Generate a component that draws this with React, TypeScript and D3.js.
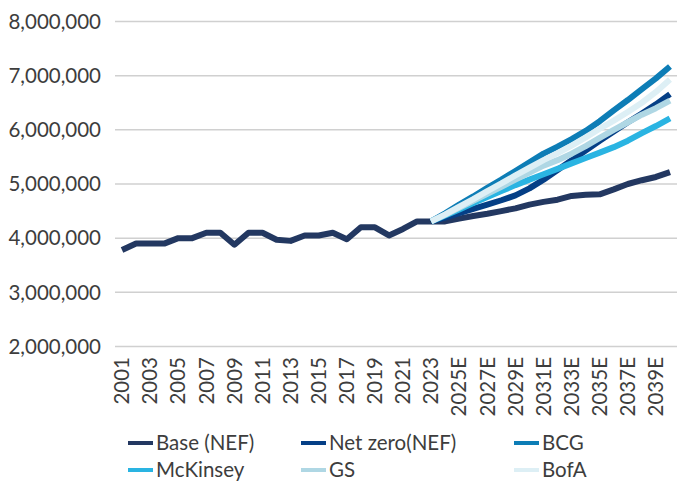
import React from "react";
import * as d3 from "d3";

const categories: string[] = [
  "2001","2002","2003","2004","2005","2006","2007","2008","2009","2010",
  "2011","2012","2013","2014","2015","2016","2017","2018","2019","2020",
  "2021","2022","2023","2024E","2025E","2026E","2027E","2028E","2029E","2030E",
  "2031E","2032E","2033E","2034E","2035E","2036E","2037E","2038E","2039E","2040E",
];

const baseNEF: number[] = [
  3780000, 3900000, 3900000, 3900000, 4000000, 4000000, 4100000, 4100000, 3880000, 4100000,
  4100000, 3970000, 3950000, 4050000, 4050000, 4100000, 3980000, 4200000, 4200000, 4050000,
  4170000, 4310000, 4310000, 4310000, 4360000, 4410000, 4450000, 4500000, 4550000, 4620000,
  4670000, 4710000, 4780000, 4800000, 4810000, 4900000, 5000000, 5070000, 5130000, 5220000,
];

const pad = (arr: number[]): (number | null)[] => [...Array(22).fill(null), ...arr];

const netZeroNEF = pad([4310000, 4380000, 4460000, 4540000, 4620000, 4700000, 4790000, 4920000, 5080000, 5260000, 5440000, 5620000, 5800000, 5970000, 6140000, 6300000, 6470000, 6660000]);
const bcg = pad([4310000, 4460000, 4620000, 4770000, 4930000, 5080000, 5240000, 5400000, 5560000, 5690000, 5830000, 5980000, 6160000, 6360000, 6550000, 6750000, 6950000, 7170000]);
const mckinsey = pad([4310000, 4420000, 4530000, 4650000, 4760000, 4870000, 4980000, 5080000, 5180000, 5280000, 5380000, 5480000, 5580000, 5680000, 5800000, 5940000, 6070000, 6210000]);
const gs = pad([4310000, 4430000, 4560000, 4690000, 4820000, 4950000, 5080000, 5210000, 5340000, 5440000, 5560000, 5700000, 5850000, 6000000, 6140000, 6280000, 6400000, 6540000]);
const bofa = pad([4310000, 4440000, 4580000, 4720000, 4870000, 5010000, 5160000, 5300000, 5440000, 5570000, 5710000, 5860000, 6020000, 6170000, 6330000, 6500000, 6700000, 6930000]);

const seriesNames = ["Base (NEF)", "Net zero(NEF)", "BCG", "McKinsey", "GS", "BofA"];
const seriesValues = [baseNEF, netZeroNEF, bcg, mckinsey, gs, bofa];
const seriesColors = ["#233861", "#053f86", "#0d7db6", "#2ab4e2", "#afd7e4", "#ddeff5"];

const yTicks = [2000000, 3000000, 4000000, 5000000, 6000000, 7000000, 8000000];

const W = 677;
const H = 484;
const FONT = "Lato, 'Open Sans', sans-serif";

export default function App() {
  const x = d3.scaleBand<string>().domain(categories).range([115, 677]).padding(0);
  const y = d3.scaleLinear().domain([2000000, 8000000]).range([346.5, 21.5]);
  const cx = (c: string) => (x(c) ?? 0) + x.bandwidth() / 2;
  const fmt = d3.format(",");

  const line = d3
    .line<number | null>()
    .defined((d) => d !== null)
    .x((_, i) => cx(categories[i]))
    .y((d) => y(d as number));

  return (
    <svg
      width={W}
      height={H}
      style={{ position: "absolute", left: 0, top: 0, background: "#fff" }}
      fontFamily={FONT}
    >
      {yTicks.map((t) => (
        <g key={t}>
          <line x1={115} x2={677} y1={y(t)} y2={y(t)} stroke="#d0d0d0" strokeWidth={1.5} />
          <text x={101} y={y(t)} dy="0.35em" textAnchor="end" fontSize={20.5} fill="#3d3d3d">
            {fmt(t)}
          </text>
        </g>
      ))}
      {categories.map((c, i) =>
        i % 2 === 0 ? (
          <text
            key={c}
            transform={`translate(${cx(c)},${357}) rotate(-90)`}
            dy="0.35em"
            textAnchor="end"
            fontSize={20.5}
            fill="#3d3d3d"
          >
            {c}
          </text>
        ) : null
      )}
      {seriesValues.map((vals, k) => (
        <path
          key={seriesNames[k]}
          d={line(vals) ?? ""}
          fill="none"
          stroke={seriesColors[k]}
          strokeWidth={6}
          strokeLinejoin="round"
          strokeLinecap="butt"
        />
      ))}
      {seriesNames.map((name, k) => {
        const col = k % 3;
        const row = Math.floor(k / 3);
        const lx = [128, 301, 514][col];
        const ly = [443, 470][row];
        return (
          <g key={name}>
            <line x1={lx} x2={lx + 25} y1={ly} y2={ly} stroke={seriesColors[k]} strokeWidth={4} />
            <text x={lx + 28} y={ly} dy="0.35em" fontSize={20.5} fill="#3d3d3d">
              {name}
            </text>
          </g>
        );
      })}
    </svg>
  );
}
